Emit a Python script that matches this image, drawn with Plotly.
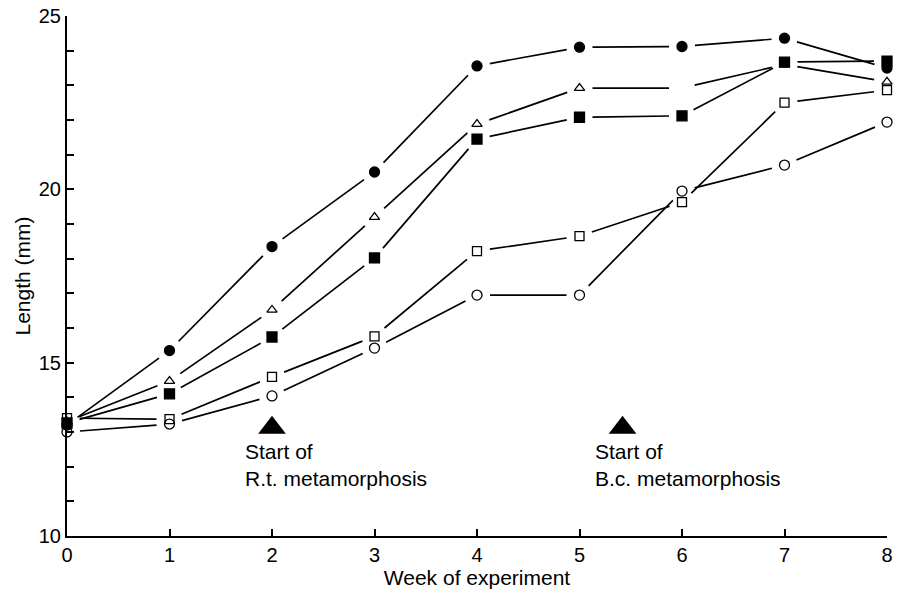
import math
import plotly.graph_objects as go

weeks = [0, 1, 2, 3, 4, 5, 6, 7, 8]
filled_circle = [13.2, 15.35, 18.35, 20.5, 23.56, 24.1, 24.12, 24.36, 23.5]
open_triangle = [13.3, 14.47, 16.52, 19.2, 21.88, 22.92, 22.92, 23.6, 23.1]
filled_square = [13.26, 14.1, 15.74, 18.02, 21.45, 22.08, 22.12, 23.67, 23.7]
open_square = [13.4, 13.37, 14.59, 15.76, 18.22, 18.65, 19.63, 22.5, 22.86]
open_circle = [13.0, 13.23, 14.04, 15.42, 16.95, 16.95, 19.95, 20.7, 21.94]

events_x = [2, 5.42]
events_y = [13.12, 13.12]
events_text = ["Start of<br>R.t. metamorphosis", "Start of<br>B.c. metamorphosis"]

FONT = "Liberation Sans, Arial, Helvetica"
W, H = 901, 593
ML, MR, MT, MB = 67, 14, 16, 57
XR = [0, 8]
YR = [10, 25]
GAP = 13  # pixels left blank between a line end and a marker centre

sx = (W - ML - MR) / (XR[1] - XR[0])
sy = (H - MT - MB) / (YR[1] - YR[0])


def gapped(xs, ys, gap):
    """Line segments between consecutive points, shortened at both ends."""
    ox, oy = [], []
    for i in range(len(xs) - 1):
        dx = (xs[i + 1] - xs[i]) * sx
        dy = (ys[i + 1] - ys[i]) * sy
        d = math.hypot(dx, dy)
        if d <= 2 * gap:
            continue
        f = gap / d
        ox += [xs[i] + (xs[i + 1] - xs[i]) * f, xs[i + 1] - (xs[i + 1] - xs[i]) * f, None]
        oy += [ys[i] + (ys[i + 1] - ys[i]) * f, ys[i + 1] - (ys[i + 1] - ys[i]) * f, None]
    return ox, oy


series = [
    (filled_circle, "circle", 10, None),
    (open_triangle, "triangle-up-open", 9, 6),   # point at week 6 not drawn in original
    (filled_square, "square", 10, None),
    (open_square, "square-open", 9, None),
    (open_circle, "circle-open", 10, None),
]

fig = go.Figure()
for ys, sym, sz, hide in series:
    lx, ly = gapped(weeks, ys, GAP)
    fig.add_trace(go.Scatter(x=lx, y=ly, mode="lines", connectgaps=False,
                             line=dict(color="black", width=1.7),
                             showlegend=False, hoverinfo="skip", cliponaxis=False))
for ys, sym, sz, hide in series:
    op = [0 if w == hide else 1 for w in weeks]
    fig.add_trace(go.Scatter(x=weeks, y=ys, mode="markers",
                             marker=dict(symbol=sym, size=sz, color="black", opacity=op,
                                         line=dict(color="black", width=1.3)),
                             showlegend=False, cliponaxis=False))

fig.add_trace(go.Scatter(x=events_x, y=events_y, mode="markers",
                         marker=dict(symbol="triangle-up", size=24, color="black",
                                     line=dict(width=0)),
                         showlegend=False, cliponaxis=False))
for ex, tx in zip(events_x, events_text):
    fig.add_annotation(x=ex - 0.285, y=12.83, text=tx, showarrow=False,
                       xanchor="left", yanchor="top", align="left",
                       font=dict(family=FONT, size=21, color="black"))

fig.update_layout(
    width=W, height=H,
    margin=dict(l=ML, r=MR, t=MT, b=MB),
    plot_bgcolor="white", paper_bgcolor="white",
    font=dict(family=FONT, size=20, color="black"),
    xaxis=dict(range=XR, tickvals=weeks, ticks="inside", ticklen=7,
               tickcolor="black", tickwidth=1.5, showline=True, linecolor="black",
               linewidth=2, showgrid=False, zeroline=False, automargin=False,
               tickfont=dict(size=20),
               title=dict(text="Week of experiment", standoff=5,
                          font=dict(size=21))),
    yaxis=dict(range=YR, tickvals=[10, 15, 20, 25], ticks="inside", ticklen=7,
               tickcolor="black", tickwidth=1.5, showline=True, linecolor="black",
               linewidth=2, showgrid=False, zeroline=False, automargin=False,
               tickfont=dict(size=20),
               minor=dict(dtick=1, ticks="inside", ticklen=7, tickcolor="black",
                          tickwidth=1.5),
               title=dict(text="Length (mm)", standoff=2, font=dict(size=21))),
)

fig.write_html("out.html")
